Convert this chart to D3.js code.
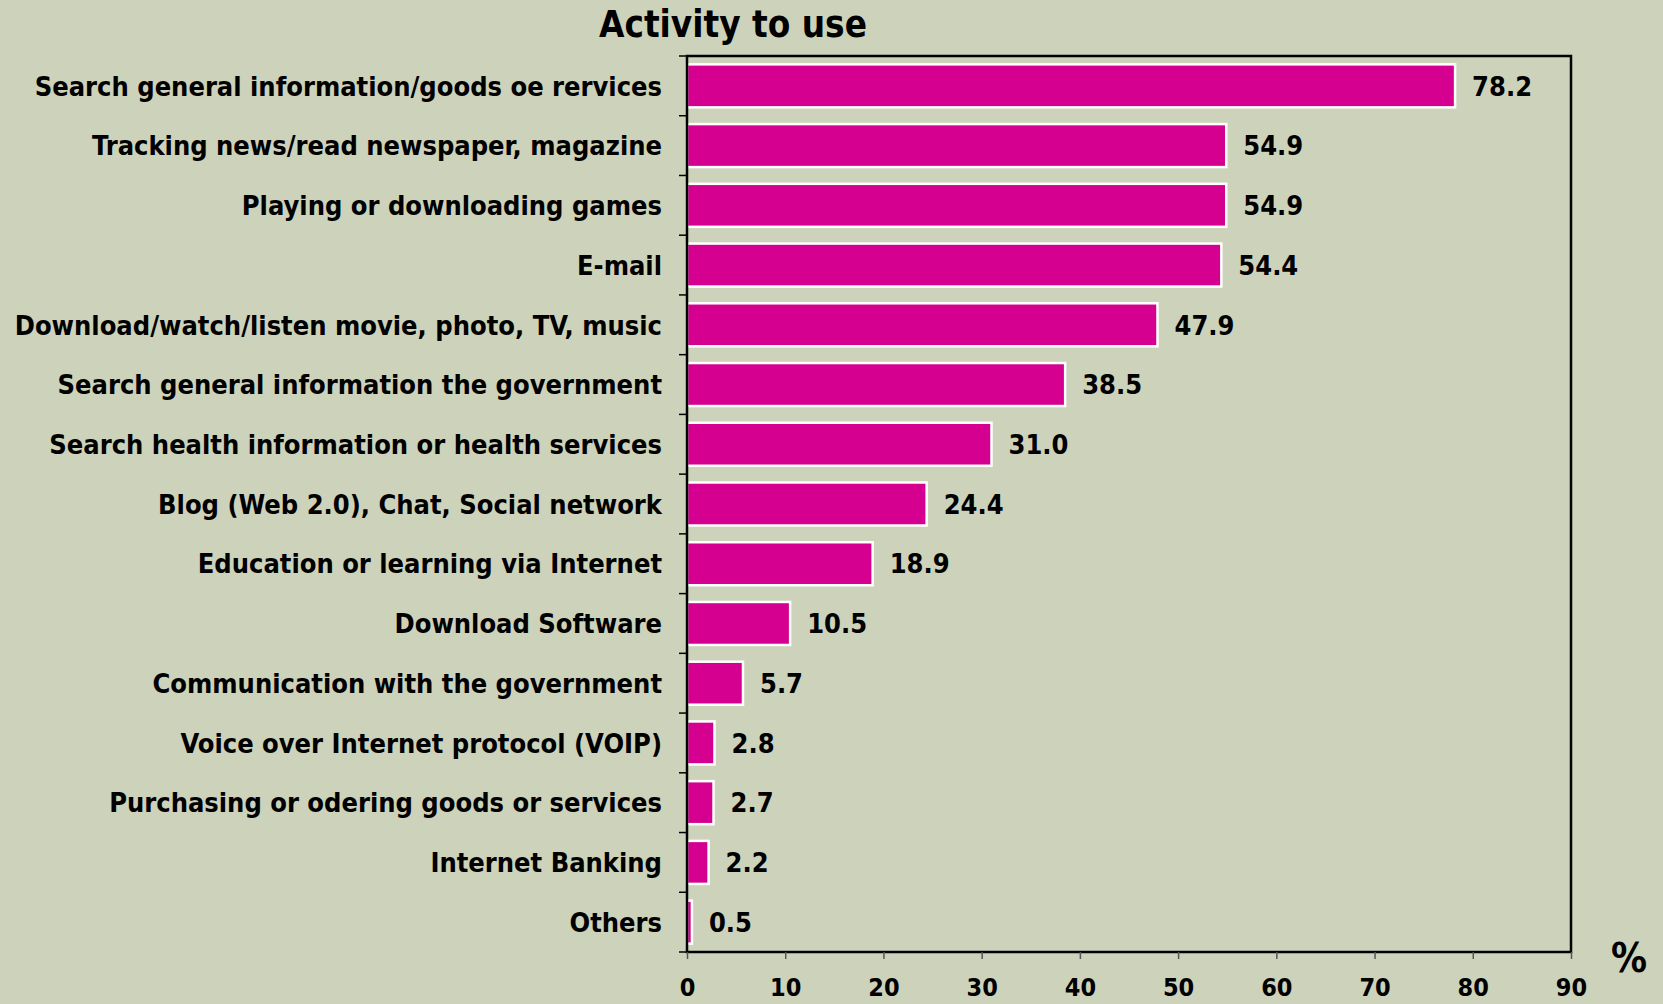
<!DOCTYPE html>
<html><head><meta charset="utf-8">
<script src="https://cdn.jsdelivr.net/npm/d3@7"></script>
<style>
html,body{margin:0;padding:0;background:#CDD2BA;}
svg{display:block;}
text{font-family:"DejaVu Sans Condensed","DejaVu Sans",sans-serif;font-weight:bold;font-stretch:condensed;fill:#000;}
</style></head>
<body>
<svg id="chart" width="1663" height="1004"></svg>
<script>
const categories = [
  "Search general information/goods oe rervices",
  "Tracking news/read newspaper, magazine",
  "Playing or downloading games",
  "E-mail",
  "Download/watch/listen movie, photo, TV, music",
  "Search general information the government",
  "Search health information or health services",
  "Blog (Web 2.0), Chat, Social network",
  "Education or learning via Internet",
  "Download Software",
  "Communication with the government",
  "Voice over Internet protocol (VOIP)",
  "Purchasing or odering goods or services",
  "Internet Banking",
  "Others"
];
const values = [78.2, 54.9, 54.9, 54.4, 47.9, 38.5, 31.0, 24.4, 18.9, 10.5, 5.7, 2.8, 2.7, 2.2, 0.5];
const xTicks = [0, 10, 20, 30, 40, 50, 60, 70, 80, 90];
const title = "Activity to use";
const unit = "%";

const svg = d3.select("#chart");
const W = 1663, H = 1004;
svg.append("rect").attr("width", W).attr("height", H).attr("fill", "#CDD2BA");

const m = {left: 687, right: 1571, top: 56, bottom: 952};
const x = d3.scaleLinear().domain([0, 90]).range([m.left, m.right]);
const y = d3.scaleBand().domain(categories).range([m.top, m.bottom]).paddingInner(0.28).paddingOuter(0.14);

// bars
svg.append("g").selectAll("rect").data(values).join("rect")
  .attr("x", x(0))
  .attr("y", (d, i) => y(categories[i]))
  .attr("width", d => x(d) - x(0))
  .attr("height", y.bandwidth())
  .attr("fill", "#D5008F")
  .attr("stroke", "#ffffff")
  .attr("stroke-width", 2.5);

// value labels
svg.append("g").selectAll("text").data(values).join("text")
  .attr("x", d => x(d) + 17)
  .attr("y", (d, i) => y(categories[i]) + y.bandwidth() / 2)
  .attr("dy", "0.36em")
  .attr("font-size", 27)
  .text(d => d.toFixed(1));

// category labels
svg.append("g").selectAll("text").data(categories).join("text")
  .attr("x", 662)
  .attr("y", d => y(d) + y.bandwidth() / 2)
  .attr("dy", "0.36em")
  .attr("text-anchor", "end")
  .attr("font-size", 27)
  .text(d => d);

// frame
svg.append("rect")
  .attr("x", m.left).attr("y", m.top)
  .attr("width", m.right - m.left).attr("height", m.bottom - m.top)
  .attr("fill", "none").attr("stroke", "#000").attr("stroke-width", 2.5);

// y ticks at band boundaries
const bounds = d3.range(categories.length + 1).map(i => m.top + i * (m.bottom - m.top) / categories.length);
svg.append("g").selectAll("line").data(bounds).join("line")
  .attr("x1", m.left - 8).attr("x2", m.left)
  .attr("y1", d => d).attr("y2", d => d)
  .attr("stroke", "#000").attr("stroke-width", 1.5);

// x axis ticks and labels
const xAxis = d3.axisBottom(x).tickValues(xTicks).tickSize(7).tickPadding(19);
const gx = svg.append("g").attr("transform", `translate(0,${m.bottom})`).call(xAxis);
gx.select(".domain").remove();
gx.selectAll(".tick line").attr("stroke", "#555").attr("stroke-width", 1.5);
gx.selectAll(".tick text").attr("font-size", 25).attr("font-family", null).style("font-family", "'DejaVu Sans Condensed','DejaVu Sans',sans-serif").style("font-weight", "bold").attr("fill", "#000");

// title
svg.append("text").attr("x", 733).attr("y", 37).attr("text-anchor", "middle")
  .attr("font-size", 36.5).text(title);

// unit
svg.append("text").attr("x", 1629).attr("y", 972).attr("text-anchor", "middle")
  .attr("font-size", 40).text(unit);
</script>
</body></html>
